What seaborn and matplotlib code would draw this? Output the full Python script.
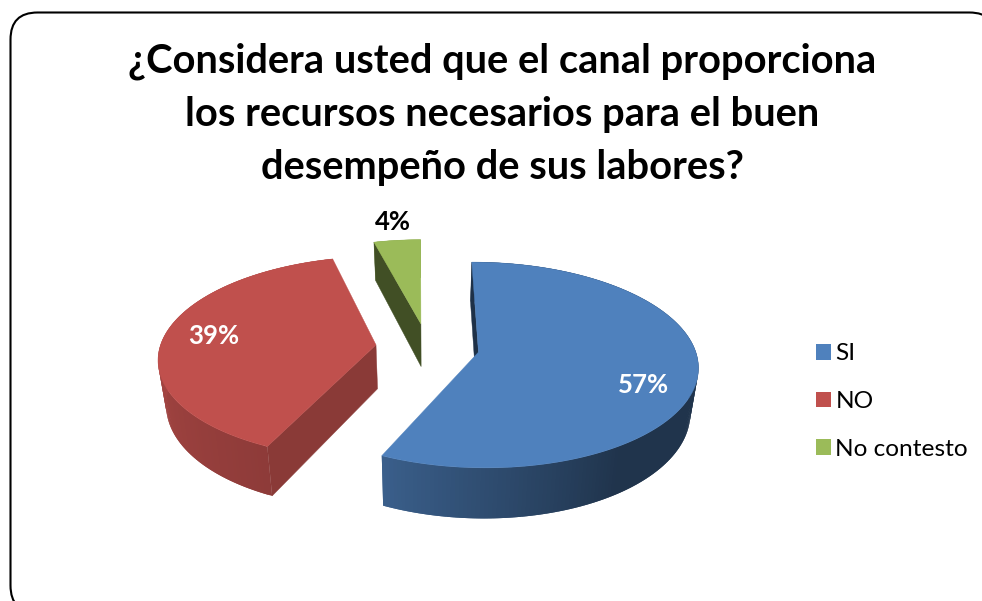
import numpy as np
import matplotlib
matplotlib.use("Agg")
import matplotlib.pyplot as plt
from matplotlib.patches import FancyBboxPatch, Patch, Polygon
import seaborn as sns

# Survey results
title = "¿Considera usted que el canal proporciona\nlos recursos necesarios para el buen\ndesempeño de sus labores?"
categories = ["SI", "NO", "No contesto"]
shares = [57, 39, 4]
colors = ["#4F81BD", "#C0504D", "#9BBB59"]

sns.set_theme(style="white")
plt.rcParams["font.family"] = ["Lato", "DejaVu Sans"]
palette = sns.color_palette(colors)

fig = plt.figure(figsize=(9.82, 6.01), dpi=100)
ax = fig.add_axes([0, 0, 1, 1])
ax.set_xlim(0, 982)
ax.set_ylim(601, 0)
ax.axis("off")

# Rounded slide frame, running off the right and bottom edges
ax.add_patch(FancyBboxPatch((10.5, 12.5), 986, 600, boxstyle="round,pad=0,rounding_size=27",
                            fc="white", ec="black", lw=1.5, zorder=0))

# Perspective pie geometry
CX, CY = 427.5, 347.0
RX, RY = 216.0, 100.0
TILT = 0.124
DEPTH = 44.0
FLOOR_SCALE = 0.97
EXPLODE = 0.24
FIRST_ANGLE = -0.3


def project(u, v, floor=False):
    s = 1.0 / (1.0 + TILT * v)
    if floor:
        return CX + RX * u * s * FLOOR_SCALE, CY - RY * v * s + DEPTH * s
    return CX + RX * u * s, CY - RY * v * s


def wall_shade(theta):
    return np.interp(theta, [90, 145, 205, 270, 360], [0.40, 0.40, 0.74, 0.86, 0.86])


def shaded(color, factor):
    return tuple(np.clip(np.array(color) * factor, 0, 1))


def draw_slice(start, stop, color, face_factor):
    mid = np.radians((start + stop) / 2)
    ou, ov = EXPLODE * np.sin(mid), EXPLODE * np.cos(mid)
    theta = np.linspace(start, stop, int(stop - start) + 2)
    rad = np.radians(theta)
    us, vs = ou + np.sin(rad), ov + np.cos(rad)

    # Outer wall: each strip overlaps the next so no seams show between them
    for i in range(len(theta) - 1):
        j = min(i + 2, len(theta) - 1)
        quad = [project(us[i], vs[i]), project(us[j], vs[j]),
                project(us[j], vs[j], floor=True), project(us[i], vs[i], floor=True)]
        ax.add_patch(Polygon(quad, fc=shaded(color, wall_shade(theta[i])), ec="none", zorder=3))

    # Flat cut face along the leading edge, the only one facing the viewer
    a, b = (ou, ov), (us[0], vs[0])
    quad = [project(*a), project(*b), project(*b, floor=True), project(*a, floor=True)]
    tone = shaded(color, face_factor)
    ax.add_patch(Polygon(quad, fc=tone, ec=tone, lw=0.3, zorder=3.5))

    # Top surface
    top = [project(ou, ov)] + [project(u, v) for u, v in zip(us, vs)]
    ax.add_patch(Polygon(top, fc=color, ec=color, lw=0.3, zorder=4))


edges = np.concatenate([[0], np.cumsum(shares)]) / np.sum(shares) * 360 + FIRST_ANGLE
for i, share in enumerate(shares):
    face = {0: 0.38, 1: 0.72, 2: 0.42}[i]
    draw_slice(edges[i], edges[i + 1], palette[i], face)

# Title and value labels
ax.text(502, 114, title, ha="center", va="center", fontsize=28.7, fontweight="bold",
        color="black", linespacing=1.53, zorder=6)
label_xy = [(644, 385), (214, 336), (393, 222)]
label_colors = ["white", "white", "black"]
for share, xy, c in zip(shares, label_xy, label_colors):
    ax.text(*xy, f"{share}%", ha="center", va="center", fontsize=18.5, fontweight="bold",
            color=c, zorder=6)

# Legend with square keys
handles = [Patch(fc=palette[i], ec="none", label=categories[i]) for i in range(3)]
leg = ax.legend(handles=handles, loc="center left", bbox_to_anchor=(816 / 982, 1 - 401.5 / 601),
                frameon=False, fontsize=17.6, labelspacing=1.09, handlelength=0.61, handleheight=0.61,
                handletextpad=0.18, borderpad=0, borderaxespad=0, labelcolor="black")

fig.savefig("out.png", dpi=100)
